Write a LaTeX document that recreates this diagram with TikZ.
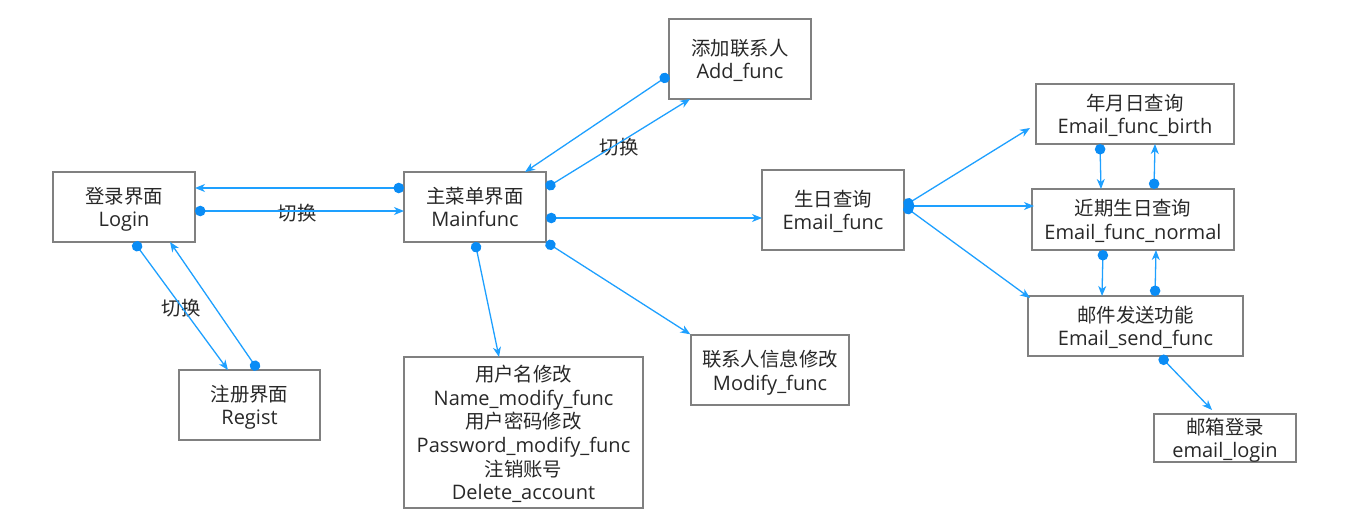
\documentclass[tikz,border=0pt]{standalone}
\usepackage{fontspec}
\setmainfont{Open Sans}
\newfontfamily\cjk[Scale=0.97]{Noto Sans CJK SC}
\usetikzlibrary{arrows.meta}
\definecolor{lineblue}{RGB}{30,160,255}
\definecolor{dotblue}{RGB}{10,140,245}
\definecolor{boxgray}{RGB}{128,128,128}
\definecolor{txt}{RGB}{40,40,40}
\tikzset{
  box/.style={draw=boxgray, line width=1.3pt, text=txt, align=center, inner sep=0pt,
    text depth=0pt, font=\fontsize{20}{23.6}\selectfont},
  conn/.style={draw=lineblue, line width=1.3pt,
    {Circle[length=10.5pt,fill=dotblue,color=dotblue]}-{Stealth[length=10pt,width=8pt,inset=3pt]}},
  lbl/.style={text=txt, font=\cjk\fontsize{20}{22}\selectfont}
}
\begin{document}
\begin{tikzpicture}[x=1pt,y=-1pt]
\useasboundingbox (0,0) rectangle (1354,519);
% nodes
\node[box, minimum width=142pt, minimum height=70pt] (login) at (124,207) {{\cjk 登录界面}\\Login};
\node[box, minimum width=142pt, minimum height=70pt] (main) at (475,207) {{\cjk 主菜单界面}\\Mainfunc};
\node[box, minimum width=142pt, minimum height=80pt] (add) at (740,59) {{\cjk 添加联系人}\\Add\_func};
\node[box, minimum width=142pt, minimum height=80pt] (email) at (833,210) {{\cjk 生日查询}\\Email\_func};
\node[box, minimum width=141pt, minimum height=70pt] (regist) at (249.5,405) {{\cjk 注册界面}\\Regist};
\node[box, minimum width=239pt, minimum height=151pt] (name) at (523.5,432.5) {{\cjk 用户名修改}\\Name\_modify\_func\\{\cjk 用户密码修改}\\Password\_modify\_func\\{\cjk 注销账号}\\Delete\_account};
\node[box, minimum width=158pt, minimum height=70pt] (modify) at (770,370) {{\cjk 联系人信息修改}\\Modify\_func};
\node[box, minimum width=198pt, minimum height=60pt] (birth) at (1135,114) {{\cjk 年月日查询}\\Email\_func\_birth};
\node[box, minimum width=202pt, minimum height=61pt] (normal) at (1133,219.5) {{\cjk 近期生日查询}\\Email\_func\_normal};
\node[box, minimum width=215pt, minimum height=60pt] (send) at (1135.5,326) {{\cjk 邮件发送功能}\\Email\_send\_func};
\node[box, minimum width=142pt, minimum height=48pt] (elogin) at (1225,438) {{\cjk 邮箱登录}\\email\_login};
% labels
\node[lbl] (l1) at (297,213) {切换};
\node[lbl] (l2) at (181,308) {切换};
\node[lbl] (l3) at (619,147) {切换};
% connectors
\draw[conn] ([shift={(-71,-19)}]main.center) -- ([shift={(71,-19)}]login.center);
\draw[conn] ([shift={(71,4)}]login.center) -- ([shift={(-71,4)}]main.center);
\draw[conn] ([shift={(10,35)}]login.center) -- ([shift={(-21.5,-35)}]regist.center);
\draw[conn] ([shift={(8.5,-35)}]regist.center) -- ([shift={(46,35)}]login.center);
\draw[conn] ([shift={(-71,16)}]add.center) -- ([shift={(50,-35)}]main.center);
\draw[conn] ([shift={(71,-19)}]main.center) -- ([shift={(-50,40)}]add.center);
\draw[conn] ([shift={(71,11)}]main.center) -- ([shift={(-71,8)}]email.center);
\draw[conn] ([shift={(0,35)}]main.center) -- ([shift={(-24.5,-75.5)}]name.center);
\draw[conn] ([shift={(71,35)}]main.center) -- (modify.north west);
\draw[conn] ([shift={(71,-4)}]email.center) -- ([shift={(-105,14)}]birth.center);
\draw[conn] ([shift={(71,-4)}]email.center) -- ([shift={(-99,-13.5)}]normal.center);
\draw[conn] ([shift={(71,-4)}]email.center) -- ([shift={(-105.5,-28)}]send.center);
\draw[conn] ([shift={(-35,30)}]birth.center) -- ([shift={(-32,-30.5)}]normal.center);
\draw[conn] ([shift={(21,-30.5)}]normal.center) -- ([shift={(20,30)}]birth.center);
\draw[conn] ([shift={(-30,30.5)}]normal.center) -- ([shift={(-33.5,-30)}]send.center);
\draw[conn] ([shift={(19.5,-30)}]send.center) -- ([shift={(23,30.5)}]normal.center);
\draw[conn] ([shift={(24.5,30)}]send.center) -- ([shift={(-13,-28)}]elogin.center);
\end{tikzpicture}
\end{document}
